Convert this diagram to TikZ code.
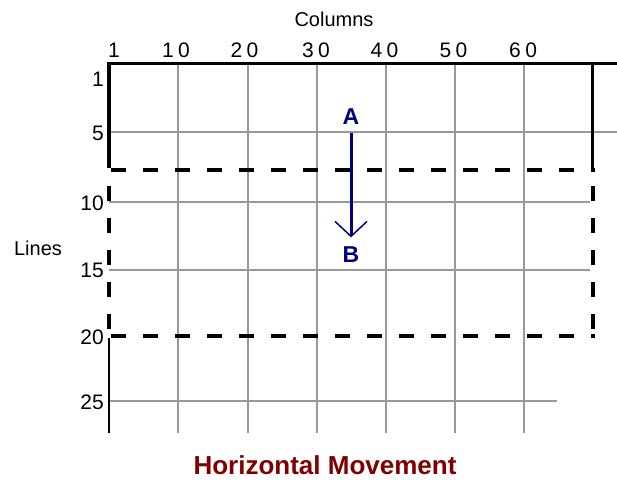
\documentclass[tikz,border=0pt]{standalone}
\usepackage{fontspec}
\setmainfont{Liberation Sans}
\usetikzlibrary{arrows.meta}
\definecolor{gridgray}{RGB}{153,153,153}
\definecolor{navyc}{RGB}{0,0,128}
\definecolor{titlered}{RGB}{128,0,0}
\begin{document}
\begin{tikzpicture}[x=1pt,y=-1pt,
  gridline/.style={draw=gridgray,line width=2pt},
  frame/.style={draw=black,line width=3.5pt},
  thinframe/.style={draw=black,line width=2pt},
  dashframe/.style={draw=black,line width=4pt,dash pattern=on 15pt off 17pt},
  lbl/.style={inner sep=0pt,font=\fontsize{20}{24}\selectfont},
  num/.style={inner sep=0pt,font=\fontsize{21}{25}\selectfont},
  pt/.style={inner sep=0pt,text=navyc,font=\fontsize{23}{27}\selectfont\bfseries},
  arr/.style={draw=navyc,line width=3pt,-{Straight Barb[length=15pt,width=32pt,line width=1.5pt]}},
  ttl/.style={inner sep=0pt,text=titlered,font=\fontsize{26}{30}\selectfont\bfseries}]
\useasboundingbox (0,0) rectangle (617,483);
% grid
\foreach \x in {178,248,317,386,455,524}{\draw[gridline] (\x,64) -- (\x,433);}
\draw[gridline] (109,131.5) -- (617,131.5);
\draw[gridline] (109,202) -- (590,202);
\draw[gridline] (109,270) -- (590,270);
\draw[gridline] (109,401) -- (557,401);
% solid frame
\draw[frame] (107.25,63.5) -- (617,63.5);
\draw[frame] (109,62) -- (109,168);
\draw[frame] (592.5,62) -- (592.5,168);
\draw[thinframe] (109,338) -- (109,433);
% dashed window
\draw[dashframe] (111,170) -- (595,170);
\draw[dashframe] (111,336) -- (595,336);
\draw[dashframe] (109,186) -- (109,330);
\draw[dashframe] (592.5,186) -- (592.5,330);
% labels
\node[lbl] (columns) at (334,19) {Columns};
\node[num] (c1) at (114,50) {1};
\node[num] (c10) at (176,50) {1\kern4.5pt0};
\node[num] (c20) at (244.5,50) {2\kern4.5pt0};
\node[num] (c30) at (316,50) {3\kern4.5pt0};
\node[num] (c40) at (384.5,50) {4\kern4.5pt0};
\node[num] (c50) at (453.5,50) {5\kern4.5pt0};
\node[num] (c60) at (523,50) {6\kern4.5pt0};
\node[num,anchor=east] (r1) at (104,79) {1};
\node[num,anchor=east] (r5) at (104,133) {5};
\node[num,anchor=east] (r10) at (104,203) {10};
\node[num,anchor=east] (r15) at (104,270) {15};
\node[num,anchor=east] (r20) at (104,337) {20};
\node[num,anchor=east] (r25) at (104,402) {25};
\node[lbl] (lines) at (38,248) {Lines};
% movement
\node[pt] (A) at (351,117) {A};
\node[pt] (B) at (351,255) {B};
\draw[arr] ([yshift=-8pt]A.south) -- ([yshift=9.5pt]B.north);
\node[ttl] (title) at (325,465.5) {Horizontal Movement};
\end{tikzpicture}
\end{document}
